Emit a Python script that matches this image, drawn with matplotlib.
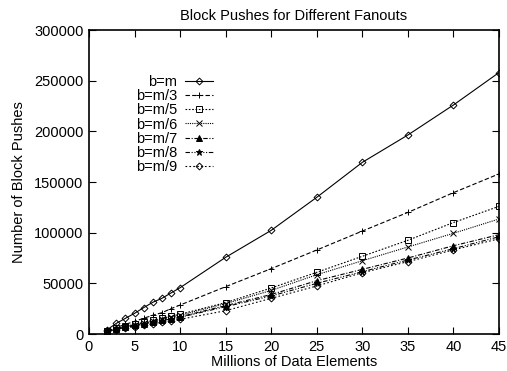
import matplotlib
matplotlib.use('Agg')
import matplotlib.pyplot as plt
import numpy as np

plt.rcParams['font.family'] = ['Liberation Sans', 'DejaVu Sans']

# millions of data elements
x = [2, 3, 4, 5, 6, 7, 8, 9, 10, 15, 20, 25, 30, 35, 40, 45]

b_m = [4300, 10500, 15500, 20400, 26000, 31300, 35200, 40500, 45700,
       75700, 102300, 134900, 169400, 196400, 226000, 258000]
b_m3 = [3500, 6500, 9500, 12500, 15500, 18500, 21000, 25000, 28600,
        46700, 64500, 82900, 101600, 120000, 139500, 158000]
b_m5 = [3200, 5500, 7500, 9500, 11500, 13500, 15500, 17500, 19500,
        31000, 45400, 60900, 76700, 92500, 110000, 126000]
b_m6 = [3000, 5200, 7200, 9000, 11000, 12800, 14700, 16600, 18500,
        30000, 43000, 58500, 72300, 85900, 99400, 113500]
b_m7 = [2800, 4900, 6700, 8500, 10200, 11900, 13600, 15300, 17000,
        28000, 39000, 52600, 63800, 75000, 87100, 98000]
b_m8 = [2700, 4700, 6500, 8200, 9900, 11500, 13200, 14800, 16500,
        27000, 37500, 50000, 61500, 73000, 84200, 96000]
b_m9 = [2500, 4200, 5800, 7300, 8800, 10200, 11600, 13000, 14500,
        23000, 35200, 47400, 60500, 71400, 83000, 94000]

series = [
    ('b=m', b_m, '-', 'D', 'none'),
    ('b=m/3', b_m3, (0, (4, 2)), '+', 'k'),
    ('b=m/5', b_m5, (0, (1.5, 1.5)), 's', 'none'),
    ('b=m/6', b_m6, (0, (1, 1)), 'x', 'k'),
    ('b=m/7', b_m7, (0, (4, 1.5, 1, 1.5)), '^', 'k'),
    ('b=m/8', b_m8, (0, (4, 1.5, 1, 1.5, 1, 1.5)), '*', 'k'),
    ('b=m/9', b_m9, (0, (1.5, 2)), 'D', 'none'),
]

fig = plt.figure(figsize=(5.07, 3.71), dpi=100)
ax = fig.add_axes([0.1755, 0.0997, 0.8087, 0.8194])

for label, y, ls, mk, fc in series:
    ms = 3.5 if mk in ('D',) else 4.5
    ax.plot(x, y, linestyle=ls, color='k', linewidth=0.8, marker=mk,
            markersize=ms, markerfacecolor=fc, markeredgecolor='k',
            markeredgewidth=0.7, label=label)

ax.set_xlim(0, 45)
ax.set_ylim(0, 300000)
ax.set_xticks(np.arange(0, 46, 5))
ax.set_yticks(np.arange(0, 300001, 50000))
ax.tick_params(direction='in', top=True, right=True, length=5, width=0.8,
               labelsize=10.5, pad=4)
for s in ax.spines.values():
    s.set_linewidth(1.2)

ax.set_title('Block Pushes for Different Fanouts', fontsize=10.5, pad=7)
ax.set_xlabel('Millions of Data Elements', fontsize=10.5, labelpad=1)
ax.set_ylabel('Number of Block Pushes', fontsize=10.5, labelpad=6)

ax.legend(loc='upper right', bbox_to_anchor=(0.32, 0.877), frameon=False,
          markerfirst=False, fontsize=10.5, handlelength=1.9,
          handletextpad=0.55, labelspacing=0.02, borderpad=0)

fig.savefig('out.png', dpi=100)
